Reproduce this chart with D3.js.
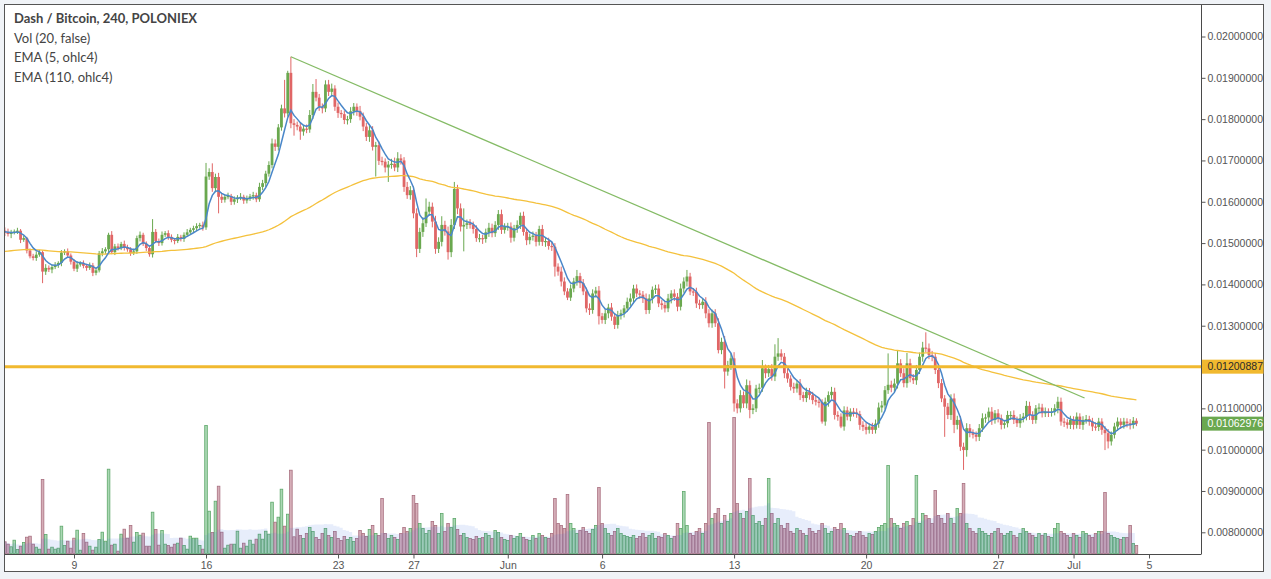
<!DOCTYPE html>
<html>
<head>
<meta charset="utf-8">
<script src="https://cdnjs.cloudflare.com/ajax/libs/d3/7.8.5/d3.min.js"></script>
<style>
  body { margin: 0; background: #f0f3f7; }
  svg { display: block; }
  .axis text { font-family: "Liberation Sans", Arial, sans-serif; font-size: 10.5px; fill: #555; }
  .axis line { stroke: #555; }
  .legend text { font-family: Lato, "Open Sans", sans-serif; font-size: 13px; fill: #444; }
</style>
</head>
<body>
<svg id="chart" width="1271" height="579"></svg>
<script>
// Dash / Bitcoin, 4h candles, prices in 1e-5 BTC
var firstCandle = Date.UTC(2017, 4, 5, 8);
var candleMs = 4 * 3600 * 1000;
var firstOpen = 1530;

var closes = [
  1525,1522,1526,1528,1530,1508,1512,1482,1468,1464,
  1472,1478,1431,1440,1436,1442,1447,1452,1477,1480,
  1470,1455,1438,1448,1452,1445,1440,1446,1428,1434,
  1475,1480,1485,1520,1478,1492,1488,1498,1490,1485,
  1476,1480,1512,1520,1498,1488,1473,1527,1505,1500,
  1520,1524,1515,1508,1505,1515,1510,1520,1526,1532,
  1536,1541,1544,1538,1661,1672,1633,1660,1612,1605,
  1612,1614,1600,1606,1610,1612,1603,1608,1613,1616,
  1606,1636,1645,1668,1689,1741,1733,1780,1826,1814,
  1912,1790,1786,1782,1770,1777,1775,1810,1866,1852,
  1830,1826,1884,1866,1874,1830,1815,1812,1798,1800,
  1819,1830,1820,1806,1782,1757,1773,1733,1737,1699,
  1697,1683,1690,1692,1683,1705,1700,1636,1616,1628,
  1572,1486,1527,1548,1576,1588,1552,1486,1503,1544,
  1528,1478,1544,1631,1584,1540,1544,1548,1544,1534,
  1512,1512,1510,1526,1537,1524,1544,1570,1532,1540,
  1540,1513,1536,1544,1566,1527,1507,1515,1518,1503,
  1534,1503,1505,1493,1491,1443,1431,1407,1383,1368,
  1390,1407,1420,1403,1383,1342,1338,1378,1385,1323,
  1314,1330,1344,1322,1302,1326,1330,1342,1358,1366,
  1390,1378,1375,1366,1338,1366,1387,1390,1354,1350,
  1342,1366,1378,1370,1346,1390,1407,1419,1383,1382,
  1354,1350,1358,1330,1306,1330,1306,1241,1261,1189,
  1205,1221,1112,1100,1132,1112,1156,1096,1100,1148,
  1150,1197,1185,1195,1177,1225,1233,1225,1185,1172,
  1152,1148,1160,1132,1125,1140,1132,1120,1116,1114,
  1068,1116,1132,1140,1084,1080,1056,1095,1080,1092,
  1090,1086,1060,1055,1048,1056,1048,1063,1102,1107,
  1144,1157,1150,1160,1209,1185,1161,1209,1173,1168,
  1193,1225,1247,1245,1229,1225,1193,1161,1124,1104,
  1084,1124,1060,1072,1007,999,1052,1040,1036,1031,
  1052,1076,1078,1092,1072,1088,1076,1060,1064,1084,
  1084,1072,1064,1076,1080,1106,1084,1072,1100,1102,
  1088,1092,1090,1092,1100,1116,1068,1066,1060,1072,
  1060,1080,1060,1072,1074,1068,1056,1055,1068,1048,
  1040,1020,1036,1056,1068,1060,1068,1064,1060,1070,
  1062.976
];

// wick length above the body / below the body (1e-5 BTC)
var wickUp = [
  8,10,6,5,7,4,6,3,5,6, 8,5,4,9,6,5,7,4,6,5, 7,5,6,8,4,6,5,7,6,4, 6,8,5,5,9,6,7,5,8,6,
  5,7,6,8,5,6,4,31,7,6, 8,5,7,6,4,7,5,6,8,5, 6,7,5,8,33,9,21,8,10,7, 6,8,5,7,6,9,5,7,6,8,
  6,10,8,7,9,12,10,8,9,69, 5,39,10,8,9,7,10,12,19,31, 9,8,10,11,12,8,10,7,9,8, 10,9,8,12,10,9,14,10,8,9,
  10,8,9,12,15,15,10,8,12,10, 9,12,10,15,32,12,10,14,11,21, 10,12,14,17,10,12,40,9,10,8, 9,10,8,9,12,10,9,10,11,8,
  9,10,8,11,8,10,9,8,10,9, 8,10,9,8,10,9,8,12,10,8, 10,9,15,8,10,9,12,10,9,11, 8,10,9,11,8,10,9,8,10,12,
  9,10,8,9,12,10,8,9,10,8, 9,11,8,10,9,12,10,16,9,8, 10,9,8,11,10,9,10,12,10,14, 10,12,15,10,12,9,14,11,10,9,
  10,20,9,10,12,30,37,10,9,11, 8,10,9,11,8,10,9,8,10,9, 8,10,9,12,10,9,8,10,9,8, 9,10,8,9,10,8,9,10,12,11,
  10,76,10,12,30,10,12,25,11,10, 12,10,14,37,12,10,9,11,10,8, 9,10,12,10,9,10,12,10,9,8, 10,12,9,10,11,8,10,9,8,10,
  9,11,8,10,9,12,10,9,8,10, 9,10,8,9,10,12,10,9,8,10, 9,10,8,9,10,8,9,10,9,8, 9,10,8,9,10,8,9,8,10,9,
  6
];
var wickDn = [
  8,6,10,5,6,8,5,7,5,6, 7,5,28,8,6,9,5,7,8,6, 5,7,6,8,5,6,7,5,8,6, 5,7,6,8,5,7,6,5,8,6,
  7,5,6,8,5,7,6,8,5,7, 6,5,7,6,8,5,6,7,5,6, 5,7,6,8,6,8,9,10,40,8, 7,6,8,7,9,6,8,7,6,8,
  7,6,8,9,7,8,10,9,8,10, 8,12,26,9,20,10,9,8,10,9, 10,12,9,10,11,10,12,9,10,11, 9,10,12,9,11,10,12,9,72,10,
  9,12,35,10,9,11,10,12,9,11, 12,20,10,12,9,10,14,12,10,11, 10,18,12,10,14,12,60,10,9,11, 9,10,12,9,11,10,9,12,10,9,
  10,12,9,11,10,9,12,10,9,11, 9,10,12,9,10,24,10,12,9,6, 8,9,10,12,9,10,12,9,10,20, 9,10,12,10,10,9,11,10,9,10,
  12,9,10,11,10,9,12,10,9,11, 10,9,12,10,11,9,10,12,9,10, 11,10,9,12,10,11,9,8,10,41, 10,12,20,12,10,11,12,20,10,9,
  11,10,12,9,10,11,10,9,12,10, 9,11,10,12,9,10,11,10,9,12, 5,10,12,9,11,10,4,10,9,11, 10,9,12,10,11,9,10,9,10,12,
  10,9,11,10,12,9,10,11,10,9, 11,10,12,9,10,11,10,12,9,73, 10,12,20,11,10,48,16,10,9,11, 10,9,11,10,12,9,10,11,9,10,
  12,10,9,11,10,9,12,10,9,11, 10,9,11,10,9,12,10,11,9,10, 11,9,10,12,9,10,11,9,10,12, 41,17,10,9,11,10,9,10,11,9,
  6
];

var volumes = [
  117,93,67,133,40,73,110,163,173,93, 63,43,740,190,43,63,43,53,273,80,
  123,53,153,233,33,200,113,73,33,63, 140,213,123,843,83,93,23,193,243,153,
  280,113,210,183,203,73,73,413,240,83, 230,93,80,63,93,103,153,80,43,173,
  153,153,80,43,1280,423,210,523,673,213, 53,83,93,93,223,53,103,73,133,93,
  143,193,143,223,193,513,313,363,643,273, 393,833,167,243,180,150,200,260,220,160,
  140,200,250,180,160,220,150,130,170,140, 160,120,150,230,200,170,240,280,200,180,
  550,200,150,180,160,140,200,260,220,250, 580,500,300,250,200,230,320,280,200,400,
  220,300,260,350,240,180,200,160,150,140, 170,150,160,200,180,150,230,210,160,140,
  130,180,150,170,200,160,140,130,180,150, 200,180,160,150,200,550,300,280,250,590,
  300,250,200,230,260,220,200,240,280,660, 300,250,200,180,220,250,200,180,170,160,
  180,150,170,200,160,180,200,150,170,160, 200,180,150,170,300,250,620,280,200,180,
  220,250,200,300,1310,350,400,450,300,380, 320,400,1360,500,400,350,420,750,380,300,
  320,280,350,750,400,300,350,280,250,300, 220,200,250,230,200,180,250,220,200,230,
  300,250,200,220,260,240,300,250,200,180, 170,200,220,180,160,200,190,220,260,280,
  300,880,350,300,280,250,300,320,280,350, 780,300,400,380,350,300,630,380,350,300,
  400,350,300,450,400,700,300,250,220,200, 250,220,200,180,200,220,250,200,180,200,
  220,180,160,200,250,220,200,180,160,200, 180,200,170,160,250,300,220,200,180,160,
  200,180,160,220,200,180,160,200,220,220, 610,200,180,160,150,140,160,160,280,100,
  80
];

var yTicks = [0.008, 0.009, 0.010, 0.011, 0.012, 0.013, 0.014, 0.015, 0.016, 0.017, 0.018, 0.019, 0.020];
var xTickDates = ["2017-05-09", "2017-05-16", "2017-05-23", "2017-05-27", "2017-06-01", "2017-06-06",
                  "2017-06-13", "2017-06-20", "2017-06-27", "2017-07-01", "2017-07-05"];
var xTickLabels = ["9", "16", "23", "27", "Jun", "6", "13", "20", "27", "Jul", "5"];
var legendLines = ["Dash / Bitcoin, 240, POLONIEX", "Vol (20, false)", "EMA (5, ohlc4)", "EMA (110, ohlc4)"];

var levelPrice = 0.01200887;
var trendPoints = [{ t: Date.UTC(2017, 4, 20, 12), v: 0.01951 }, { t: Date.UTC(2017, 6, 1, 14), v: 0.01125 }];
var ema110Seed = 0.01479; // value of the long EMA at the left edge

// ---------------------------------------------------------------
var svg = d3.select("#chart");
var plotL = 5, plotT = 5, plotR = 1201, plotB = 554, frameR = 1264, frameB = 572;

var x = d3.scaleUtc()
    .domain([new Date(Date.UTC(2017, 4, 9)), new Date(Date.UTC(2017, 6, 5))])
    .range([74, 1149]);
var y = d3.scaleLinear().domain([0.008, 0.020]).range([532.3, 36.5]);
var yVol = d3.scaleLinear().domain([0, d3.max(volumes)]).range([553.5, 417.5]);

var candles = closes.map(function(c, i) {
  var o = i ? closes[i - 1] : firstOpen;
  return {
    t: new Date(firstCandle + i * candleMs),
    o: o / 1e5, c: c / 1e5,
    h: (Math.max(o, c) + wickUp[i]) / 1e5,
    l: (Math.min(o, c) - wickDn[i]) / 1e5,
    v: volumes[i]
  };
});

function ema(vals, n, seed) {
  var k = 2 / (n + 1), prev = seed;
  return vals.map(function(v) {
    prev = (prev == null) ? v : v * k + prev * (1 - k);
    return prev;
  });
}
var ohlc4 = candles.map(function(d) { return (d.o + d.h + d.l + d.c) / 4; });
var ema5 = ema(ohlc4, 5, null);
var ema110 = ema(ohlc4, 110, ema110Seed);
var volMa = volumes.map(function(v, i) {
  return d3.mean(volumes.slice(Math.max(0, i - 19), i + 1));
});

// frame
svg.append("rect").attr("x", plotL).attr("y", plotT)
   .attr("width", frameR - plotL).attr("height", frameB - plotT)
   .attr("fill", "#fff");

svg.append("defs").append("clipPath").attr("id", "plotClip")
   .append("rect").attr("x", plotL).attr("y", plotT)
   .attr("width", plotR - plotL).attr("height", plotB - plotT);

var g = svg.append("g").attr("clip-path", "url(#plotClip)");

// volume bars
g.selectAll(".vol").data(candles).enter().append("rect")
  .attr("x", function(d) { return x(d.t) - 1.3; })
  .attr("width", 2.6)
  .attr("y", function(d) { return yVol(d.v); })
  .attr("height", function(d) { return yVol(0) - yVol(d.v); })
  .attr("fill", function(d) { return d.c >= d.o ? "#aad8b4" : "#d6aeb8"; })
  .attr("stroke", function(d) { return d.c >= d.o ? "#5fa86b" : "#a97080"; })
  .attr("stroke-width", 0.8);

// volume moving average
g.append("path")
  .datum(candles)
  .attr("d", d3.area()
    .curve(d3.curveStepAfter)
    .x(function(d) { return x(d.t) - 1.6; })
    .y0(yVol(0))
    .y1(function(d, i) { return yVol(volMa[i]); }))
  .attr("fill", "rgba(60,110,225,0.12)");

// candles
var cg = g.selectAll(".candle").data(candles).enter().append("g");
cg.append("line")
  .attr("x1", function(d) { return x(d.t); })
  .attr("x2", function(d) { return x(d.t); })
  .attr("y1", function(d) { return y(d.h); })
  .attr("y2", function(d) { return y(d.l); })
  .attr("stroke", function(d) { return d.c >= d.o ? "#6aa84f" : "#e06666"; })
  .attr("stroke-width", 1);
cg.append("rect")
  .attr("x", function(d) { return x(d.t) - 1.4; })
  .attr("width", 2.8)
  .attr("y", function(d) { return y(Math.max(d.o, d.c)); })
  .attr("height", function(d) { return Math.max(1.2, Math.abs(y(d.o) - y(d.c))); })
  .attr("fill", function(d) { return d.c >= d.o ? "#6aa84f" : "#e06666"; });

// EMAs
var lineOf = function(arr) {
  return d3.line().x(function(d) { return x(d.t); }).y(function(d, i) { return y(arr[i]); });
};
g.append("path").datum(candles).attr("d", lineOf(ema110)(candles))
  .attr("fill", "none").attr("stroke", "#f4c13c").attr("stroke-width", 1.3);
g.append("path").datum(candles).attr("d", lineOf(ema5)(candles))
  .attr("fill", "none").attr("stroke", "#4a87c9").attr("stroke-width", 1.5);

// trend line drawing
g.append("path")
  .attr("d", d3.line()
    .x(function(d) { return x(new Date(d.t)); })
    .y(function(d) { return y(d.v); })(trendPoints))
  .attr("fill", "none").attr("stroke", "#84bb65").attr("stroke-width", 1.3);

// horizontal level
svg.append("line")
  .attr("x1", plotL).attr("x2", plotR)
  .attr("y1", y(levelPrice)).attr("y2", y(levelPrice))
  .attr("stroke", "#f1b92f").attr("stroke-width", 3);

// borders
svg.append("line").attr("x1", plotR + 0.5).attr("x2", plotR + 0.5)
   .attr("y1", plotT).attr("y2", plotB).attr("stroke", "#4a4a4a");
svg.append("line").attr("x1", plotL).attr("x2", plotR + 0.5)
   .attr("y1", plotB + 0.5).attr("y2", plotB + 0.5).attr("stroke", "#4a4a4a");
svg.append("rect").attr("x", plotL - 0.5).attr("y", plotT - 0.5)
   .attr("width", frameR - plotL).attr("height", frameB - plotT)
   .attr("fill", "none").attr("stroke", "#555").attr("stroke-width", 1);

// axes
var yAxis = d3.axisRight(y).tickValues(yTicks).tickSize(4).tickPadding(2)
  .tickFormat(d3.format(".8f"));
svg.append("g").attr("class", "axis").attr("transform", "translate(" + (plotR + 0.5) + ",0)")
  .call(yAxis).call(function(s) { s.select(".domain").remove(); });

var xAxis = d3.axisBottom(x)
  .tickValues(xTickDates.map(function(s) { return new Date(s + "T00:00:00Z"); }))
  .tickSize(4).tickPadding(3)
  .tickFormat(function(d, i) { return xTickLabels[i]; });
svg.append("g").attr("class", "axis").attr("transform", "translate(0," + (plotB + 0.5) + ")")
  .call(xAxis).call(function(s) { s.select(".domain").remove(); });

// price labels on the axis
function priceTag(v, fill, color) {
  var yy = y(v);
  svg.append("rect").attr("x", plotR + 1).attr("y", yy - 7).attr("width", frameR - plotR - 1.5).attr("height", 14)
     .attr("fill", fill);
  svg.append("text").attr("x", plotR + 6.5).attr("y", yy + 3.8)
     .attr("font-family", "Liberation Sans, Arial, sans-serif").attr("font-size", "10.5px")
     .attr("fill", color).text(d3.format(".8f")(v));
}
priceTag(levelPrice, "#f1b92f", "#2a2a2a");
priceTag(candles[candles.length - 1].c, "#6aa84f", "#ffffff");

// legend
var lg = svg.append("g").attr("class", "legend");
lg.selectAll("text").data(legendLines).enter().append("text")
  .attr("x", 14)
  .attr("y", function(d, i) { return 23 + i * 19.5; })
  .attr("font-weight", function(d, i) { return i ? "normal" : "bold"; })
  .text(function(d) { return d; });
</script>
</body>
</html>
